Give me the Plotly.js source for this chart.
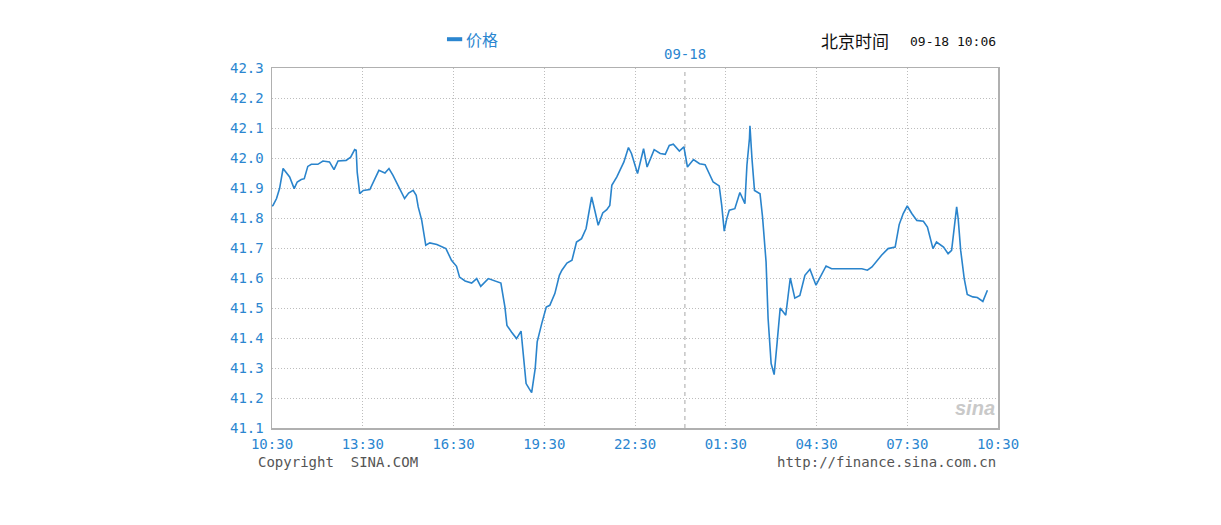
<!DOCTYPE html>
<html>
<head>
<meta charset="utf-8">
<script src="https://cdn.plot.ly/plotly-3.0.1.min.js"></script>
<style>
html,body{margin:0;padding:0;background:#fff;}
#chart{width:1221px;height:525px;}
</style>
</head>
<body>
<div id="chart"></div>
<script>
// minutes since 10:30 (09-17)
const minutes = [0,2,9,15,22,28,35,44,50,58,64,71,78,91,101,114,123,131,147,156,164,167,169,174,181,194,202,212,224,232,240,253,263,271,280,286,290,
297,305,313,327,345,356,366,372,383,396,406,414,429,442,454,462,466,475,485,494,499,504,510,515,522,526,535,544,551,561,570,
575,585,595,604,614,623,634,641,647,656,664,670,674,684,694,698,707,713,725,731,737,744,758,770,780,788,796,808,817,824,836,848,
859,875,887,892,897,902,907,918,928,938,942,947,948,952,957,968,973,980,984,990,996,1002,1008,1019,1028,1037,1047,1057,1067,1079,1099,1110,1127,
1170,1181,1190,1209,1222,1236,1244,1252,1260,1269,1279,1292,1300,1311,1318,1332,1341,1348,1355,1358,1361,1366,1373,1379,1390,1399,1410,1419];
const prices = [41.84,41.842,41.865,41.898,41.965,41.953,41.937,41.898,41.92,41.928,41.931,41.972,41.979,41.979,41.99,41.987,41.961,41.99,41.992,42.003,42.028,42.026,41.953,41.881,41.892,41.895,41.926,41.959,41.95,41.965,41.942,41.898,41.865,41.883,41.892,41.876,41.837,
41.792,41.709,41.717,41.712,41.698,41.659,41.639,41.603,41.59,41.583,41.598,41.572,41.598,41.59,41.583,41.503,41.442,41.42,41.398,41.423,41.326,41.248,41.231,41.218,41.298,41.387,41.448,41.503,41.509,41.548,41.609,
41.626,41.65,41.659,41.72,41.731,41.765,41.87,41.82,41.776,41.817,41.828,41.842,41.909,41.937,41.97,41.987,42.035,42.015,41.948,41.992,42.031,41.97,42.028,42.015,42.012,42.042,42.046,42.023,42.037,41.97,41.995,41.981,
41.978,41.92,41.907,41.842,41.756,41.798,41.826,41.831,41.885,41.848,41.976,42.065,42.107,41.998,41.892,41.881,41.803,41.653,41.465,41.315,41.278,41.387,41.5,41.476,41.6,41.533,41.542,41.609,41.629,41.576,41.64,41.631,41.631,
41.631,41.626,41.637,41.676,41.698,41.703,41.778,41.815,41.84,41.815,41.792,41.789,41.77,41.698,41.72,41.703,41.681,41.692,41.809,41.837,41.798,41.692,41.598,41.545,41.537,41.535,41.522,41.559];

const tickMinutes = [0,180,360,540,720,900,1080,1260,1440];
const tickLabels = ["10:30","13:30","16:30","19:30","22:30","01:30","04:30","07:30","10:30"];
const dayBreakMinute = 819;
const dayBreakLabel = "09-18";
const seriesName = "价格";
const headerLabel = "北京时间";
const headerTime = "09-18 10:06";

const blue = "#2b86d0";
const mono = "DejaVu Sans Mono, monospace";
const cjk = "Noto Sans CJK SC, sans-serif";

const trace = {
  x: minutes, y: prices, type: "scatter", mode: "lines",
  name: seriesName, line: {color: "#2a84cc", width: 1.6}, hoverinfo: "skip"
};

const layout = {
  width: 1221, height: 525,
  margin: {l: 272, r: 223, t: 68, b: 97},
  paper_bgcolor: "#ffffff", plot_bgcolor: "#ffffff",
  showlegend: false,
  xaxis: {
    range: [0, 1440], tickvals: tickMinutes, ticktext: tickLabels,
    showgrid: true, gridcolor: "#bdbdbd", griddash: "1px,2px", gridwidth: 1,
    showline: true, mirror: true, linecolor: "#b0b0b0", linewidth: 1.5,
    zeroline: false, ticks: "", ticklabelstandoff: 3,
    tickfont: {family: mono, size: 14, color: blue}
  },
  yaxis: {
    range: [41.1, 42.3], dtick: 0.1, tick0: 41.1, tickformat: ".1f",
    showgrid: true, gridcolor: "#bdbdbd", griddash: "1px,2px", gridwidth: 1,
    showline: true, mirror: true, linecolor: "#b0b0b0", linewidth: 1.5,
    zeroline: false, ticks: "", ticklabelstandoff: 4,
    tickfont: {family: mono, size: 14, color: blue}
  },
  shapes: [
    {type: "line", xref: "x", yref: "paper", x0: dayBreakMinute, x1: dayBreakMinute, y0: 0, y1: 1,
     line: {color: "#a8a8a8", width: 1, dash: "4px,4px"}, layer: "below"},
    {type: "line", xref: "paper", yref: "paper", x0: 0.241, x1: 0.262, y0: 1.08, y1: 1.08,
     line: {color: blue, width: 4}}
  ],
  annotations: [
    {xref: "x", yref: "paper", x: dayBreakMinute, y: 1.01, yanchor: "bottom", xanchor: "center",
     text: dayBreakLabel, showarrow: false, font: {family: mono, size: 14, color: blue}},
    {xref: "paper", yref: "paper", x: 0.265, y: 1.08, xanchor: "left", yanchor: "middle",
     text: seriesName, showarrow: false, font: {family: cjk, size: 16, color: blue}},
    {xref: "paper", yref: "paper", x: 0.853, y: 1.077, xanchor: "right", yanchor: "middle",
     text: headerLabel, showarrow: false, font: {family: cjk, size: 17, color: "#111111"}},
    {xref: "paper", yref: "paper", x: 1.0, y: 1.075, xanchor: "right", yanchor: "middle",
     text: headerTime, showarrow: false, font: {family: mono, size: 13, color: "#111111"}},
    {xref: "paper", yref: "paper", x: -0.022, y: -0.095, xanchor: "left", yanchor: "middle",
     text: "Copyright  SINA.COM", showarrow: false, font: {family: mono, size: 14, color: "#555555"}},
    {xref: "paper", yref: "paper", x: 1.0, y: -0.095, xanchor: "right", yanchor: "middle",
     text: "http://finance.sina.com.cn", showarrow: false, font: {family: mono, size: 14, color: "#555555"}},
    {xref: "paper", yref: "paper", x: 0.999, y: 0.02, xanchor: "right", yanchor: "bottom",
     text: "<b><i>sina</i></b>", showarrow: false, font: {family: "Liberation Sans, sans-serif", size: 20, color: "#c9c9c9"}}
  ]
};

Plotly.newPlot("chart", [trace], layout, {displayModeBar: false, staticPlot: true});
</script>
</body>
</html>
